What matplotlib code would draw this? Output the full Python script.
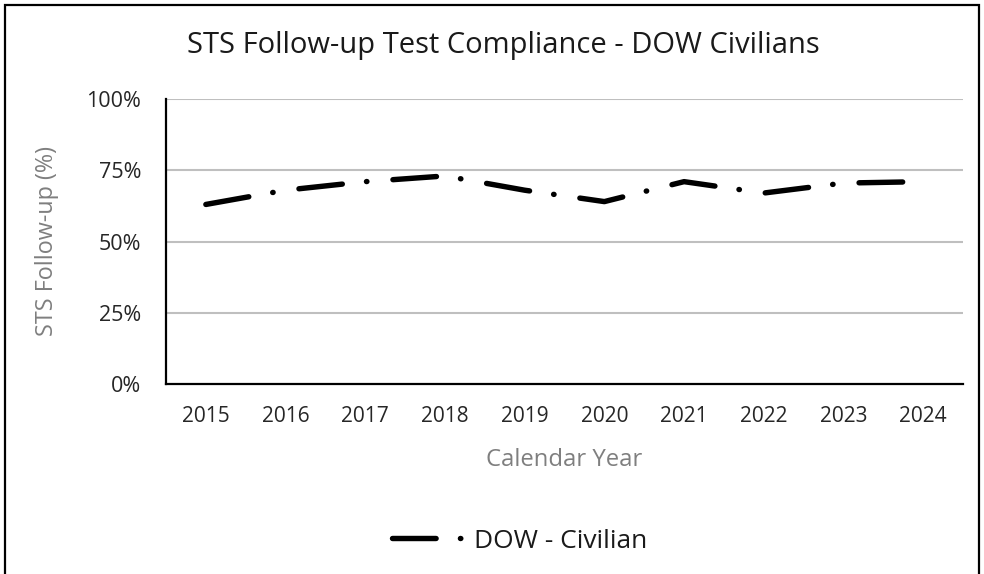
import matplotlib
matplotlib.use("Agg")
import matplotlib.pyplot as plt
from matplotlib.patches import Rectangle
from matplotlib.ticker import FuncFormatter

years = ["2015", "2016", "2017", "2018", "2019", "2020", "2021", "2022", "2023", "2024"]
civilian = [63, 68, 71, 73, 68, 64, 71, 67, 70.5, 71]
series_name = "DOW - Civilian"
yticks = [0, 25, 50, 75, 100]

plt.rcParams['font.family'] = ['Open Sans', 'DejaVu Sans']
plt.rcParams['lines.scale_dashes'] = False

W, H = 984, 574
fig = plt.figure(figsize=(W / 100, H / 100), dpi=100)
ax = fig.add_axes([166 / W, 1 - 384 / H, (963 - 166) / W, (384 - 99) / H])

x = list(range(len(years)))
line, = ax.plot(x, civilian, color='black', lw=3.9, solid_capstyle='round',
                dash_capstyle='round', label=series_name,
                linestyle=(0, (31.4, 17.5, 0.3, 18.8)))

ax.set_xlim(-0.5, len(years) - 0.5)
ax.set_ylim(0, 100)
ax.set_xticks(x)
ax.set_xticklabels(years)
ax.set_yticks(yticks)
ax.yaxis.set_major_formatter(FuncFormatter(lambda v, p: f"{int(v)}%"))
ax.tick_params(axis='both', length=0, labelcolor='#262626')
ax.tick_params(axis='y', pad=18, labelsize=15.5)
ax.tick_params(axis='x', pad=16, labelsize=15)
for v in yticks[1:]:
    ax.axhline(v, color='#BFBFBF', lw=1.5, zorder=0)
for s in ['top', 'right']:
    ax.spines[s].set_visible(False)
for s in ['left', 'bottom']:
    ax.spines[s].set_linewidth(1.6)
    ax.spines[s].set_color('black')

ax.set_ylabel("STS Follow-up (%)", fontsize=16.8, color='#7F7F7F', va='center')
ax.yaxis.set_label_coords((47 - 166) / (963 - 166), 0.5)
ax.set_xlabel("Calendar Year", fontsize=17.2, color='#7F7F7F', va='center')
ax.xaxis.set_label_coords(0.5, (384 - 460) / (384 - 99))

fig.text(503 / W, 1 - 45 / H, "STS Follow-up Test Compliance - DOW Civilians",
         ha='center', va='center', fontsize=21, color='#1a1a1a')

leg = fig.legend(handles=[line], loc='center', bbox_to_anchor=(520 / W, 1 - 541 / H),
                 frameon=False, fontsize=19, handlelength=2.75, handletextpad=0.35)
for t in leg.get_texts():
    t.set_color('#1a1a1a')

fig.patches.append(Rectangle((5 / W, -0.1), (979 - 5) / W, 1.1 - 5 / H,
                             transform=fig.transFigure, fill=False,
                             edgecolor='black', lw=1.6))

fig.savefig("out.png", dpi=100)
